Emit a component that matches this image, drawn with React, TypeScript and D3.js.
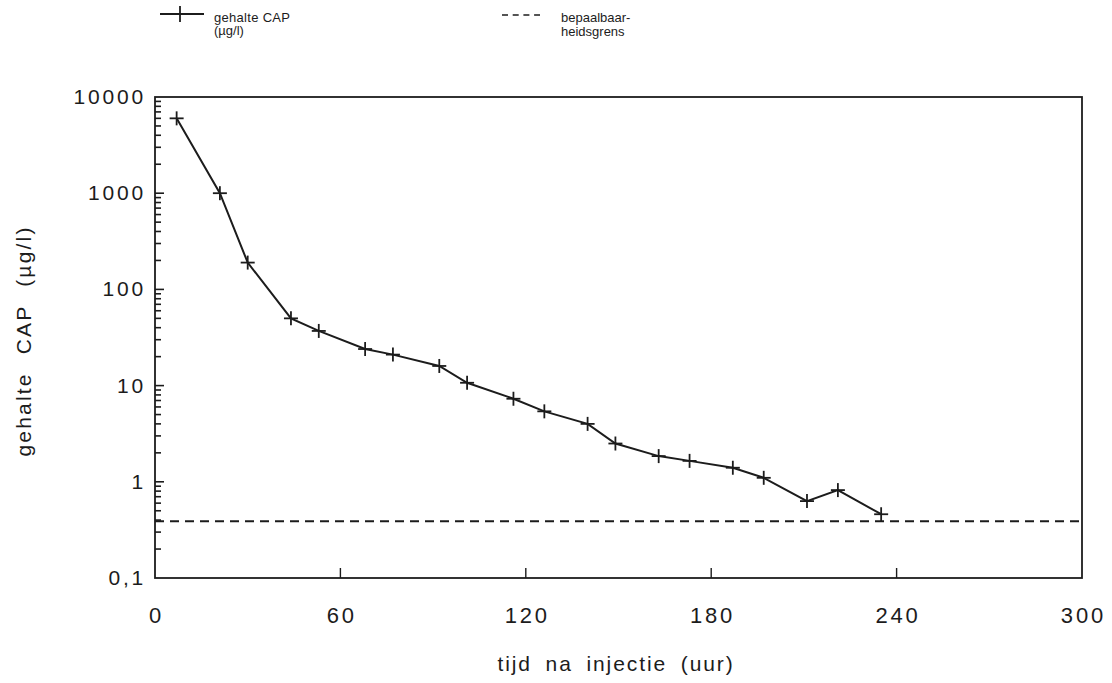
import React, { useEffect, useRef } from "react";
import * as d3 from "d3";

// uren na injectie en gemeten gehalte CAP (µg/l)
const hours = [7, 21, 30, 44, 53, 68, 77, 92, 101, 116, 126, 140, 149, 163, 173, 187, 197, 211, 221, 235];
const capValues = [6000, 1000, 190, 50, 37, 24, 21, 16, 10.7, 7.3, 5.4, 4.0, 2.5, 1.85, 1.65, 1.4, 1.1, 0.63, 0.82, 0.46];
const detectionLimit = 0.39;
const xTicks = [0, 60, 120, 180, 240, 300];
const yTicks = [0.1, 1, 10, 100, 1000, 10000];

const W = 1112;
const H = 683;
const FONT = "'Liberation Sans', Arial, sans-serif";
const INK = "#1c1c1c";

export default function App() {
  const ref = useRef<SVGSVGElement | null>(null);

  useEffect(() => {
    if (!ref.current) return;
    const svg = d3.select(ref.current);
    svg.selectAll("*").remove();

    const m = { left: 155, right: W - 1082, top: 97, bottom: H - 578 };
    const x = d3.scaleLinear().domain([0, 300]).range([m.left, W - m.right]);
    const y = d3.scaleLog().domain([0.1, 10000]).range([H - m.bottom, m.top]);

    const g = svg.append("g");

    // frame
    g.append("rect")
      .attr("x", x(0))
      .attr("y", y(10000))
      .attr("width", x(300) - x(0))
      .attr("height", y(0.1) - y(10000))
      .attr("fill", "none")
      .attr("stroke", INK)
      .attr("stroke-width", 1.8);

    // y minor ticks (inside)
    const minor: number[] = [];
    for (let e = -1; e < 4; e++) {
      for (let k = 2; k <= 9; k++) minor.push(k * Math.pow(10, e));
    }
    g.selectAll(".ymin")
      .data(minor)
      .enter()
      .append("line")
      .attr("x1", x(0))
      .attr("x2", x(0) + 6)
      .attr("y1", (d) => y(d))
      .attr("y2", (d) => y(d))
      .attr("stroke", INK)
      .attr("stroke-width", 1.6);
    g.selectAll(".ymaj")
      .data(yTicks.slice(1, -1))
      .enter()
      .append("line")
      .attr("x1", x(0))
      .attr("x2", x(0) + 9)
      .attr("y1", (d) => y(d))
      .attr("y2", (d) => y(d))
      .attr("stroke", INK)
      .attr("stroke-width", 1.6);

    // y labels
    g.selectAll(".ylab")
      .data(yTicks)
      .enter()
      .append("text")
      .attr("x", x(0) - 9)
      .attr("y", (d) => y(d) + 7)
      .attr("text-anchor", "end")
      .attr("font-family", FONT)
      .attr("font-size", 21)
      .attr("letter-spacing", 2.8)
      .attr("fill", INK)
      .text((d) => (d < 1 ? "0,1" : String(d)));

    // x ticks (inside) and labels
    g.selectAll(".xt")
      .data(xTicks.slice(1, -1))
      .enter()
      .append("line")
      .attr("x1", (d) => x(d))
      .attr("x2", (d) => x(d))
      .attr("y1", y(0.1))
      .attr("y2", y(0.1) - 10)
      .attr("stroke", INK)
      .attr("stroke-width", 1.4);
    g.selectAll(".xlab")
      .data(xTicks)
      .enter()
      .append("text")
      .attr("x", (d) => x(d) + 1.4)
      .attr("y", 623)
      .attr("text-anchor", "middle")
      .attr("font-family", FONT)
      .attr("font-size", 22)
      .attr("letter-spacing", 2.8)
      .attr("fill", INK)
      .text((d) => String(d));

    // axis titles
    g.append("text")
      .attr("x", 616)
      .attr("y", 671)
      .attr("text-anchor", "middle")
      .attr("font-family", FONT)
      .attr("font-size", 21)
      .attr("letter-spacing", 1.9)
      .attr("word-spacing", 6)
      .attr("fill", INK)
      .text("tijd na injectie (uur)");
    g.append("text")
      .attr("transform", `translate(31, 341) rotate(-90)`)
      .attr("text-anchor", "middle")
      .attr("font-family", FONT)
      .attr("font-size", 21)
      .attr("letter-spacing", 2.2)
      .attr("word-spacing", 10)
      .attr("fill", INK)
      .text("gehalte CAP (µg/l)");

    // detection limit
    g.append("line")
      .attr("x1", x(0))
      .attr("x2", x(300))
      .attr("y1", y(detectionLimit))
      .attr("y2", y(detectionLimit))
      .attr("stroke", INK)
      .attr("stroke-width", 2)
      .attr("stroke-dasharray", "9,6");

    // data line
    const pts = hours.map((h, i) => [h, capValues[i]] as [number, number]);
    const line = d3
      .line<[number, number]>()
      .x((d) => x(d[0]))
      .y((d) => y(d[1]));
    g.append("path")
      .attr("d", line(pts))
      .attr("fill", "none")
      .attr("stroke", INK)
      .attr("stroke-width", 2);

    const cross = (sel: any, cx: number, cy: number, s: number) => {
      sel.append("line").attr("x1", cx - s).attr("x2", cx + s).attr("y1", cy).attr("y2", cy)
        .attr("stroke", INK).attr("stroke-width", 1.8);
      sel.append("line").attr("x1", cx).attr("x2", cx).attr("y1", cy - s).attr("y2", cy + s)
        .attr("stroke", INK).attr("stroke-width", 1.8);
    };
    pts.forEach((p) => cross(g, x(p[0]), y(p[1]), 7));

    // legend
    const lg = svg.append("g");
    lg.append("line").attr("x1", 160).attr("x2", 204).attr("y1", 14).attr("y2", 14)
      .attr("stroke", INK).attr("stroke-width", 1.8);
    lg.append("line").attr("x1", 180).attr("x2", 180).attr("y1", 6).attr("y2", 22)
      .attr("stroke", INK).attr("stroke-width", 1.8);
    lg.append("text").attr("x", 214).attr("y", 22).attr("font-family", FONT).attr("font-size", 13)
      .attr("letter-spacing", 0.3).attr("fill", INK).text("gehalte CAP");
    lg.append("text").attr("x", 214).attr("y", 35).attr("font-family", FONT).attr("font-size", 13)
      .attr("fill", INK).text("(µg/l)");
    lg.append("line").attr("x1", 502).attr("x2", 540).attr("y1", 15).attr("y2", 15)
      .attr("stroke", INK).attr("stroke-width", 1.6).attr("stroke-dasharray", "6,4.7");
    lg.append("text").attr("x", 561).attr("y", 22).attr("font-family", FONT).attr("font-size", 13)
      .attr("fill", INK).text("bepaalbaar-");
    lg.append("text").attr("x", 561).attr("y", 36).attr("font-family", FONT).attr("font-size", 13)
      .attr("fill", INK).text("heidsgrens");
  }, []);

  return (
    <svg
      ref={ref}
      width={W}
      height={H}
      style={{ position: "absolute", left: 0, top: 0, background: "#fff", display: "block" }}
    />
  );
}
